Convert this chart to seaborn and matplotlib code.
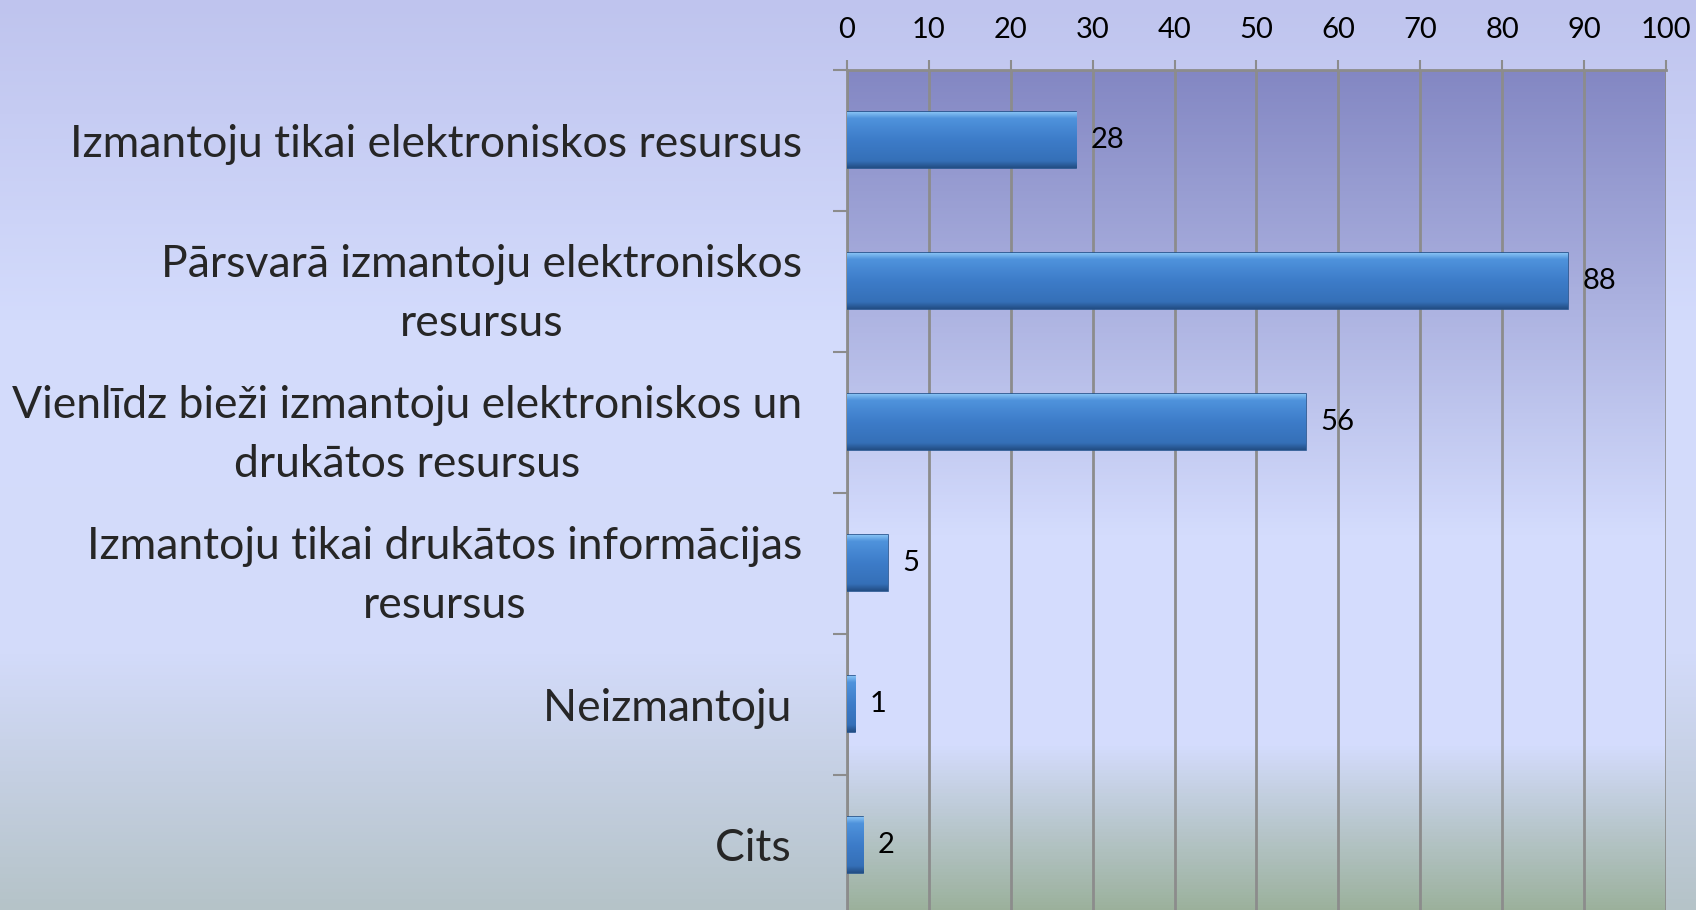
import numpy as np
import pandas as pd
import matplotlib
matplotlib.use("Agg")
import matplotlib.pyplot as plt
import seaborn as sns
from matplotlib.colors import LinearSegmentedColormap
from matplotlib.ticker import MultipleLocator

categories = [
    "Izmantoju tikai elektroniskos resursus",
    "Pārsvarā izmantoju elektroniskos\nresursus",
    "Vienlīdz bieži izmantoju elektroniskos un\ndrukātos resursus",
    "Izmantoju tikai drukātos informācijas\nresursus",
    "Neizmantoju ",
    "Cits ",
]
counts = [28, 88, 56, 5, 1, 2]
x_ticks = [0, 10, 20, 30, 40, 50, 60, 70, 80, 90, 100]

df = pd.DataFrame({"category": categories, "count": counts})

sns.set_theme(style="white")
plt.rcParams["font.family"] = ["Lato", "DejaVu Sans"]

fig = plt.figure(figsize=(16.96, 9.10), dpi=100)

# slide background gradient
bg = fig.add_axes([0, 0, 1, 1], zorder=-10)
bg_cmap = LinearSegmentedColormap.from_list(
    "bg", [(0, "#bfc4ee"), (0.35, "#d3dbfc"), (0.72, "#d3dbfa"), (1.0, "#b5c3c8")])
bg.imshow(np.linspace(0, 1, 256).reshape(-1, 1), aspect="auto", cmap=bg_cmap,
          extent=[0, 1, 1, 0])
bg.set_axis_off()

ax = fig.add_axes([0.4994, -0.006, 0.4829, 0.9293])
ax.patch.set_alpha(0)

sns.barplot(data=df, x="count", y="category", color="#3d7cc9", width=0.4,
            edgecolor="#25548e", linewidth=1.2, ax=ax, zorder=3)

ax.set_xlim(0, 100)
ax.set_ylim(len(categories) - 0.5, -0.5)

# plot-area gradient
pa_cmap = LinearSegmentedColormap.from_list(
    "pa", [(0, "#8387c3"), (0.55, "#d4dcfd"), (0.8, "#d4dcfd"), (1.0, "#9ab09a")])
ax.imshow(np.linspace(0, 1, 256).reshape(-1, 1), aspect="auto", cmap=pa_cmap,
          extent=[0, 100, len(categories) - 0.5, -0.5], zorder=0)

# bevel shading on each bar
shade = LinearSegmentedColormap.from_list(
    "shade", [(0, "#8cc6f7"), (0.12, "#4f93dc"), (0.5, "#3d7cc9"), (0.88, "#3570b8"), (1, "#234f86")])
for p in ax.patches:
    x0, y0 = p.get_x(), p.get_y()
    w, h = p.get_width(), p.get_height()
    im = ax.imshow(np.linspace(0, 1, 64).reshape(-1, 1), aspect="auto", cmap=shade,
                   extent=[x0, x0 + w, y0 + h, y0], zorder=3.5)
    im.set_clip_path(p)

ax.set_xlim(0, 100)
ax.set_ylim(len(categories) - 0.5, -0.5)

# grid and spines
ax.set_xticks(x_ticks)
ax.grid(axis="x", color="#8c8c8c", linewidth=2, zorder=1)
ax.set_axisbelow(True)
for s in ["bottom", "right"]:
    ax.spines[s].set_visible(False)
for s in ["top", "left"]:
    ax.spines[s].set_color("#8c8c8c")
    ax.spines[s].set_linewidth(2)

ax.xaxis.tick_top()
ax.tick_params(axis="x", top=True, bottom=False, length=7, width=1.5, color="#8c8c8c",
               labelsize=21, labelcolor="black", pad=12)
ax.set_yticks(range(len(categories)))
ax.set_yticklabels(categories)
ax.yaxis.set_minor_locator(MultipleLocator(1, offset=0.5))
ax.tick_params(axis="y", which="major", length=0, labelsize=32, pad=32)
ax.tick_params(axis="y", which="minor", left=True, length=10, width=1.5, color="#8c8c8c")
for lbl in ax.get_yticklabels():
    lbl.set_multialignment("center")
    lbl.set_linespacing(1.55)
ax.set_xlabel("")
ax.set_ylabel("")

for p, v in zip(ax.patches, counts):
    ax.text(p.get_width() + 1.8, p.get_y() + p.get_height() / 2, str(v),
            va="center", ha="left", fontsize=21, color="black", zorder=5)

fig.savefig("out.png", dpi=100)
